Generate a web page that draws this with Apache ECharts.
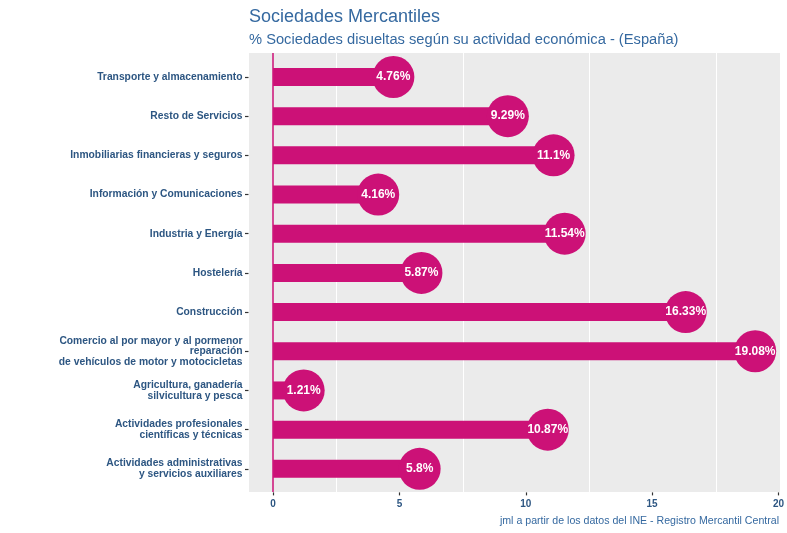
<!DOCTYPE html>
<html><head><meta charset="utf-8">
<script src="https://cdn.jsdelivr.net/npm/echarts@6/dist/echarts.min.js"></script>
<style>html,body{margin:0;padding:0;background:#fff}#c{width:787px;height:533px}</style>
</head><body><div id="c"></div>
<script>
const categories = [
  'Transporte y almacenamiento',
  'Resto de Servicios',
  'Inmobiliarias financieras y seguros',
  'Información y Comunicaciones',
  'Industria y Energía',
  'Hostelería',
  'Construcción',
  'Comercio al por mayor y al pormenor\nreparación\nde vehículos de motor y motocicletas',
  'Agricultura, ganadería\nsilvicultura y pesca',
  'Actividades profesionales\ncientíficas y técnicas',
  'Actividades administrativas\ny servicios auxiliares'
];
const values = [4.76, 9.29, 11.1, 4.16, 11.54, 5.87, 16.33, 19.08, 1.21, 10.87, 5.8];
const xTicks = [0, 5, 10, 15, 20];
const gridMinor = [2.5, 7.5, 12.5, 17.5];
const xMin = -0.954, xMax = 20.03;

const axisColor = '#2d5682';
const barColor = '#cc1177';
const chart = echarts.init(document.getElementById('c'));
chart.setOption({
  animation: false,
  title: [
    {text: 'Sociedades Mercantiles', left: 244, top: 3, textStyle: {fontFamily: 'Liberation Sans', fontSize: 18, fontWeight: 'normal', color: '#3569a0'}},
    {text: '% Sociedades disueltas según su actividad económica - (España)', left: 244, top: 27, textStyle: {fontFamily: 'Liberation Sans', fontSize: 14.7, fontWeight: 'normal', color: '#3569a0'}},
    {text: 'jml a partir de los datos del INE - Registro Mercantil Central', right: 3, top: 511, textStyle: {fontFamily: 'Liberation Sans', fontSize: 10.6, fontWeight: 'normal', color: '#3569a0'}}
  ],
  grid: [
    {left: 249, right: 7, top: 53, bottom: 41, show: true, backgroundColor: '#ebebeb', borderWidth: 0},
    {left: 249, right: 7, top: 57.4, bottom: 44.6}
  ],
  xAxis: [
    {gridIndex: 0, type: 'value', min: xMin, max: xMax, show: false},
    {gridIndex: 1, type: 'value', min: xMin, max: xMax,
     axisLine: {show: false, onZero: false}, splitLine: {show: false},
     axisTick: {show: true, length: 3, customValues: xTicks, lineStyle: {color: '#333', width: 1.2}},
     axisLabel: {customValues: xTicks, color: axisColor, fontFamily: 'Liberation Sans', fontWeight: 'bold', fontSize: 10, margin: 7},
     offset: 4}
  ],
  yAxis: [
    {gridIndex: 0, type: 'value', min: 0, max: 1, show: false},
    {gridIndex: 1, type: 'category', data: categories, inverse: true,
     axisLine: {show: false, onZero: false},
     axisTick: {show: true, length: 3.5, alignWithLabel: true, lineStyle: {color: '#333', width: 1.2}},
     axisLabel: {color: axisColor, fontFamily: 'Liberation Sans', fontWeight: 'bold', fontSize: 10.3, lineHeight: 10.5, margin: 6, align: 'right'},
     offset: 0.5}
  ],
  series: [
    {type: 'scatter', xAxisIndex: 0, yAxisIndex: 0, data: [[0, 0.5]], symbolSize: 0, silent: true, z: 0,
     markLine: {symbol: 'none', silent: true, label: {show: false}, z: 0,
       data: gridMinor.map(v => ({xAxis: v, lineStyle: {color: '#ffffff', width: 1, type: 'solid'}}))}},
    {type: 'scatter', xAxisIndex: 0, yAxisIndex: 0, data: [[0, 0.5]], symbolSize: 0, silent: true, z: 5,
     markLine: {symbol: 'none', silent: true, label: {show: false}, z: 5,
       data: [{xAxis: 0, lineStyle: {color: barColor, width: 1.5, type: 'solid'}}]}},
    {type: 'bar', xAxisIndex: 1, yAxisIndex: 1, data: values, barWidth: 18, z: 3, itemStyle: {color: barColor}},
    {type: 'scatter', xAxisIndex: 1, yAxisIndex: 1, data: values.map((v, i) => [v, i]), symbolSize: 42, z: 4,
     itemStyle: {color: barColor, opacity: 1},
     label: {show: true, position: 'inside', formatter: p => p.value[0] + '%', color: '#fff', fontFamily: 'Liberation Sans', fontWeight: 'bold', fontSize: 12}}
  ]
});
</script></body></html>
